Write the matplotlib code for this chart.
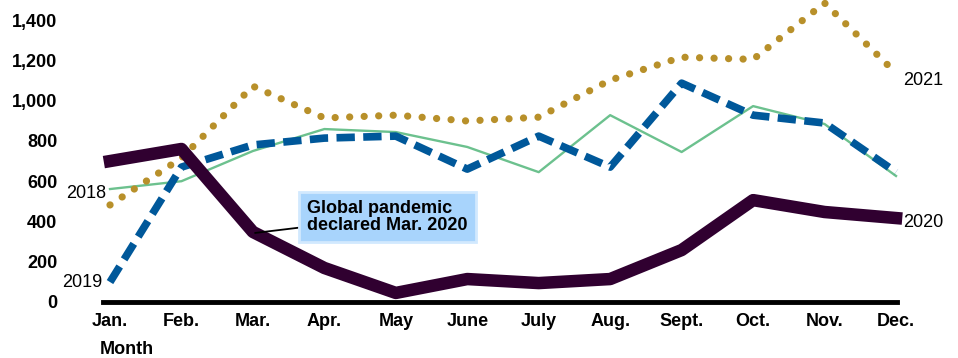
import matplotlib.pyplot as plt

plt.rcParams['font.family'] = ['Liberation Sans', 'DejaVu Sans']

months = ['Jan.', 'Feb.', 'Mar.', 'Apr.', 'May', 'June', 'July', 'Aug.', 'Sept.', 'Oct.', 'Nov.', 'Dec.']
y2018 = [561, 600, 750, 859, 844, 770, 645, 928, 745, 973, 884, 626]
y2019 = [99, 670, 780, 814, 824, 660, 824, 670, 1087, 928, 889, 645]
y2020 = [700, 760, 348, 169, 45, 114, 94, 114, 258, 506, 447, 417]
y2021 = [482, 715, 1072, 914, 928, 899, 918, 1102, 1216, 1205, 1485, 1137]
yticks = [0, 200, 400, 600, 800, 1000, 1200, 1400]

fig = plt.figure(figsize=(9.58, 3.58), dpi=100)
ax = fig.add_axes([103 / 958, 56 / 358, 794 / 958, 302 / 358])
x = list(range(len(months)))

ax.plot(x, y2018, color='#6cc18e', linewidth=1.7, clip_on=False)
ax.plot(x, y2019, color='#00589a', linewidth=5.5, linestyle=(0, (2.4, 1.1)), clip_on=False)
ax.plot(x, y2021, color='#b8902a', linewidth=5.2, linestyle=(0, (0.01, 2.0)),
        dash_capstyle='round', clip_on=False)
ax.plot(x, y2020, color='#300030', linewidth=9, clip_on=False)

ax.set_xlim(-0.098, 11.014)
ax.set_ylim(0, 1500)
ax.set_xticks(x)
ax.set_xticklabels(months, fontsize=13, fontweight='bold')
ax.set_yticks(yticks)
ax.set_yticklabels([f'{v:,}' for v in yticks], fontsize=13, fontweight='bold')
ax.tick_params(axis='x', length=0, pad=8)
ax.tick_params(axis='y', length=0, pad=33)
for s in ['top', 'right', 'left']:
    ax.spines[s].set_visible(False)
ax.spines['bottom'].set_linewidth(3.5)
ax.spines['bottom'].set_zorder(5)

fig.text(100 / 958, 1 - 349 / 358, 'Month', fontsize=13, fontweight='bold', va='center', ha='left')

# series labels
ax.text(-0.056, 541, '2018', fontsize=13, ha='right', va='center')
ax.text(-0.11, 99, '2019', fontsize=13, ha='right', va='center')
ax.text(11.10, 1102, '2021', fontsize=13, ha='left', va='center')
ax.text(11.10, 397, '2020', fontsize=13, ha='left', va='center')

# annotation
ax.annotate('Global pandemic\ndeclared Mar. 2020', xy=(2.03, 343), xytext=(2.76, 422),
            fontsize=13, fontweight='bold', ha='left', va='center', linespacing=1.05,
            bbox=dict(boxstyle='square,pad=0.45', fc='#a8d4fc', ec='#d2e9fe', lw=2),
            arrowprops=dict(arrowstyle='-', color='black', lw=1.3, shrinkA=0, shrinkB=0))

fig.savefig('out.png', dpi=100)
